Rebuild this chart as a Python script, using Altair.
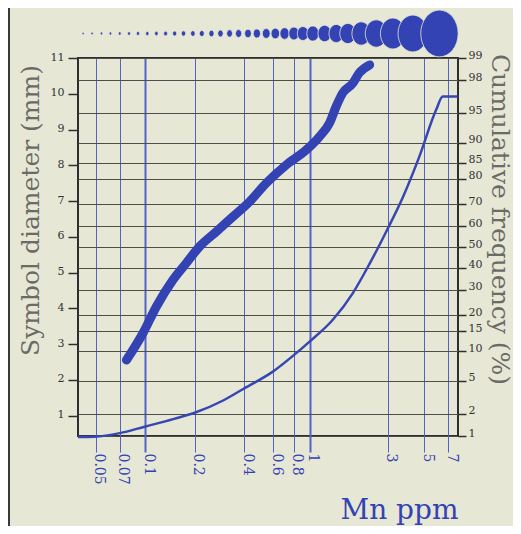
import altair as alt
import pandas as pd
from statistics import NormalDist

# ---- axis tick values ----
x_ticks = [0.05, 0.07, 0.1, 0.2, 0.4, 0.6, 0.8, 1, 3, 5, 7]
mm_ticks = [1, 2, 3, 4, 5, 6, 7, 8, 9, 10, 11]
pct_ticks = [1, 2, 5, 10, 15, 20, 30, 40, 50, 60, 70, 80, 85, 90, 95, 98, 99]

# ---- symbol diameter curve (thin line) ----
thin_mn = [0.039, 0.049, 0.070, 0.099, 0.15, 0.2, 0.3, 0.403, 0.598, 0.792, 1.0,
           1.385, 1.83, 2.32, 2.93, 3.69, 4.66, 5.89, 6.46, 7.97]
thin_mm = [0.40, 0.41, 0.51, 0.69, 0.91, 1.08, 1.43, 1.77, 2.23, 2.67, 3.07,
           3.68, 4.42, 5.25, 6.15, 7.10, 8.25, 9.55, 9.92, 9.92]

# ---- cumulative frequency (thick line) ----
cum_mn = [0.0769, 0.097, 0.117, 0.1475, 0.178, 0.214, 0.271, 0.342, 0.432, 0.545,
          0.722, 0.955, 1.15, 1.32, 1.45, 1.59, 1.83, 2.01, 2.32]
cum_pct = [8.2, 14.5, 23.2, 34.3, 42.2, 50.2, 57.5, 64.6, 71.2, 78.4,
           84.4, 88.4, 91.3, 93.6, 95.8, 97.1, 97.8, 98.4, 98.75]

# ---- symbol legend row (top) ----
circ_mn = [0.0419, 0.0475, 0.0542, 0.0614, 0.070, 0.0797, 0.0904, 0.103, 0.117, 0.133,
           0.151, 0.171, 0.195, 0.221, 0.253, 0.287, 0.326, 0.370, 0.422, 0.478,
           0.545, 0.619, 0.705, 0.803, 0.911, 1.047, 1.234, 1.453, 1.709, 2.062,
           2.544, 3.209, 4.246, 6.17]
circ_mm = [0.55, 0.58, 0.62, 0.66, 0.70, 0.75, 0.80, 0.86, 0.92, 0.98,
           1.04, 1.10, 1.17, 1.25, 1.33, 1.42, 1.52, 1.63, 1.76, 1.90,
           2.06, 2.24, 2.45, 2.68, 2.90, 3.15, 3.45, 3.78, 4.20, 4.85,
           5.70, 6.45, 7.70, 9.75]

nd = NormalDist()


def probit(p):
    return nd.inv_cdf(p / 100.0)


z_ticks = [probit(p) for p in pct_ticks]
z_lo, z_hi = probit(1), probit(99)

thin_df = pd.DataFrame({"mn": thin_mn, "mm": thin_mm})
cum_df = pd.DataFrame({"mn": cum_mn, "pct": cum_pct, "z": [probit(p) for p in cum_pct]})
circ_df = pd.DataFrame({"mn": circ_mn, "mm": circ_mm, "order": list(range(len(circ_mn)))})

# label expression mapping probit values back to percentages
expr = "''"
for p, z in reversed(list(zip(pct_ticks, z_ticks))):
    expr = f"abs(datum.value - ({z:.5f})) < 0.01 ? '{p}' : ({expr})"

BG = "#e7e7d6"
BLUE = "#3343b3"
THIN = "#3747b2"
GRIDBLUE = "#5263c9"
DARK = "#2e2e2e"
GREY_TXT = "#6b6b66"
SERIF = "DejaVu Serif"

W, H = 380, 378

x_scale = alt.Scale(type="log", domain=[0.039, 8], nice=False)

x_axis = alt.Axis(
    values=x_ticks, labelExpr="'' + datum.value", labelAngle=90,
    labelFont=SERIF, labelFontSize=14, labelColor=BLUE, labelPadding=1, labelOffset=3,
    grid=True, gridColor=GRIDBLUE,
    gridWidth={"condition": {"test": "datum.value == 1 || datum.value == 0.1", "value": 2}, "value": 1},
    ticks=True, tickColor=GRIDBLUE, tickSize=16,
    tickWidth={"condition": {"test": "datum.value == 1 || datum.value == 0.1", "value": 2}, "value": 1},
    domain=False,
    title="Mn ppm", titleFont=SERIF, titleFontSize=28, titleFontWeight="normal",
    titleColor=BLUE, titleX=W, titleY=82, titleAlign="right", titleBaseline="alphabetic",
)

thin_line = alt.Chart(thin_df).mark_line(
    color=THIN, strokeWidth=2.5, interpolate="monotone", clip=False
).encode(
    x=alt.X("mn:Q", scale=x_scale, axis=x_axis),
    y=alt.Y("mm:Q", scale=alt.Scale(domain=[0.43, 11], nice=False, zero=False),
            axis=alt.Axis(
                orient="left", values=mm_ticks, grid=False, domain=False,
                tickColor=DARK, tickSize=10, tickWidth=1.5,
                labelFont=SERIF, labelFontSize=11, labelColor="#333333", labelPadding=4,
                labelBaseline="alphabetic", labelOffset=2,
                title="Symbol diameter (mm)", titleFont=SERIF, titleFontSize=25,
                titleFontWeight="normal", titleColor=GREY_TXT, titleAngle=-90,
                titleX=-35, titleY=152, titleAlign="center", titleBaseline="bottom",
            )),
)

thick_line = alt.Chart(cum_df).mark_line(
    color=BLUE, strokeWidth=9, strokeCap="round", strokeJoin="round",
    interpolate="monotone", clip=False
).encode(
    x=alt.X("mn:Q", scale=x_scale),
    y=alt.Y("z:Q", scale=alt.Scale(domain=[z_lo, z_hi], nice=False, zero=False),
            axis=alt.Axis(
                orient="right", values=z_ticks, labelExpr=expr,
                grid=True, gridColor="#4f4f4a", gridWidth=1, domain=False,
                tickColor=DARK, tickSize=8, tickWidth=1.5,
                labelFont=SERIF, labelFontSize=11, labelColor="#333333", labelPadding=2,
                labelBaseline="alphabetic", labelOffset=0,
                title="Cumulative frequency (%)", titleFont=SERIF, titleFontSize=25,
                titleFontWeight="normal", titleColor=GREY_TXT, titleAngle=90,
                titleX=28, titleY=161, titleAlign="center", titleBaseline="bottom",
            )),
)

ellipse = "M -0.8 0 A 0.8 1 0 1 0 0.8 0 A 0.8 1 0 1 0 -0.8 0 Z"
circles = alt.Chart(circ_df).mark_point(
    shape=ellipse, filled=True, fill=BLUE, stroke=BG, strokeWidth=0.8, opacity=1, clip=False
).encode(
    x=alt.X("mn:Q", scale=x_scale),
    y=alt.value(-24.5),
    size=alt.Size("mm:Q", scale=alt.Scale(type="pow", exponent=2, domain=[0, 10], range=[0, 2300]),
                  legend=None),
    order=alt.Order("order:Q"),
)

page_line = alt.Chart(thin_df).mark_rule(color="#3a3a3a", strokeWidth=1.5).encode(
    x=alt.value(-69.5), y=alt.value(-50), y2=alt.value(H + 90)
)

chart = alt.layer(thin_line, thick_line, circles, page_line).resolve_scale(
    y="independent"
).properties(
    width=W, height=H,
    padding={"left": 70, "top": 50, "right": 55, "bottom": 90},
    autosize=alt.AutoSizeParams(type="none"),
    background=BG,
).configure_view(stroke=DARK, strokeWidth=2)

chart.save("out.html", embed_options={"renderer": "svg", "actions": False})
